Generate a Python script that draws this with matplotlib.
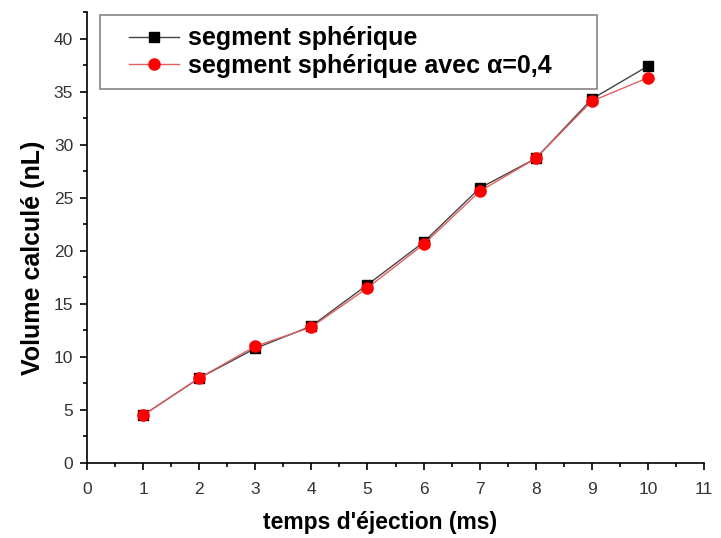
import numpy as np
import matplotlib
matplotlib.use('Agg')
import matplotlib.pyplot as plt
from matplotlib.ticker import MultipleLocator
from matplotlib.legend_handler import HandlerLine2D

plt.rcParams['font.family'] = ['Liberation Sans', 'DejaVu Sans']

temps = [1, 2, 3, 4, 5, 6, 7, 8, 9, 10]
vol_segment = [4.5, 8.0, 10.8, 12.9, 16.8, 20.8, 25.9, 28.7, 34.3, 37.4]
vol_alpha = [4.5, 8.0, 11.0, 12.8, 16.5, 20.6, 25.6, 28.7, 34.1, 36.3]

W, H = 721, 538
fig = plt.figure(figsize=(W / 100, H / 100), dpi=100)
ax = fig.add_axes([87 / W, 1 - 463 / H, 617 / W, 451 / H])

l1, = ax.plot(temps, vol_segment, color='#444444', lw=1, marker='s', ms=7,
              mfc='black', mec='black', label='segment sphérique')
l2, = ax.plot(temps, vol_alpha, color='#e06060', lw=1, marker='o', ms=8,
              mfc='red', mec='red', label='segment sphérique avec α=0,4')

ax.set_xlim(0, 11)
ax.set_ylim(0, 42.5)
ax.xaxis.set_major_locator(MultipleLocator(1))
ax.xaxis.set_minor_locator(MultipleLocator(0.5))
ax.yaxis.set_major_locator(MultipleLocator(5))
ax.yaxis.set_minor_locator(MultipleLocator(2.5))
ax.spines['top'].set_visible(False)
ax.spines['right'].set_visible(False)
for s in ['left', 'bottom']:
    ax.spines[s].set_linewidth(1.2)
ax.tick_params(which='major', direction='out', length=5, width=1.2, labelsize=12.5,
               labelcolor='#333333')
ax.tick_params(which='minor', direction='out', length=3, width=1.2)
ax.tick_params(axis='x', which='major', pad=8.5)
ax.tick_params(axis='y', which='major', pad=5)

ax.set_xlabel("temps d'éjection (ms)", fontsize=16.5, fontweight='bold')
ax.xaxis.set_label_coords((380 - 87) / 617, -(511 - 463) / 451)
ax.set_ylabel('Volume calculé (nL)', fontsize=18, fontweight='bold')
ax.yaxis.set_label_coords(-(87 - 45) / 617, (463 - 258) / 451)

leg = ax.legend(loc='upper left', mode='expand',
                bbox_to_anchor=(100 / W, 0, 497 / W, 1 - 15 / H),
                bbox_transform=fig.transFigure,
                handler_map={l1: HandlerLine2D(xpad=0.7), l2: HandlerLine2D(xpad=0.7)},
                prop={'weight': 'bold', 'size': 18}, frameon=True, fancybox=False,
                edgecolor='#666666', handlelength=2.7, handletextpad=0.36,
                borderpad=0.45, labelspacing=0.15, borderaxespad=0)
leg.get_frame().set_linewidth(1.2)

plt.savefig('out.png', dpi=100)
plt.close()
